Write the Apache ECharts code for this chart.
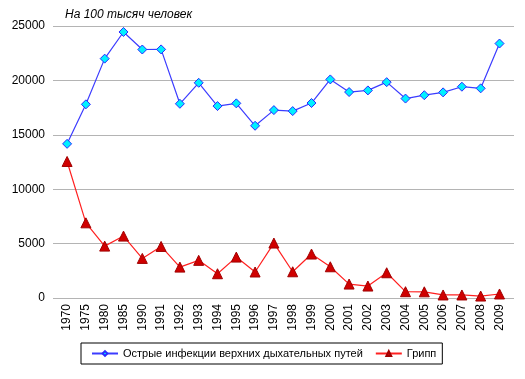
<!DOCTYPE html>
<html><head><meta charset="utf-8">
<script src="https://cdn.jsdelivr.net/npm/echarts@6/dist/echarts.min.js"></script>
<style>html,body{margin:0;padding:0;background:#fff}#c{width:525px;height:379px}</style>
</head><body><div id="c"></div>
<script>
const years = ['1970','1975','1980','1985','1990','1991','1992','1993','1994','1995','1996','1997','1998','1999','2000','2001','2002','2003','2004','2005','2006','2007','2008','2009'];
const ari = [14170,17800,22000,24450,22840,22850,17850,19780,17640,17890,15830,17270,17180,17920,20090,18930,19080,19840,18330,18640,18900,19420,19270,23390];
const flu = [12550,6910,4770,5690,3640,4740,2840,3460,2230,3760,2390,5050,2410,4040,2870,1280,1100,2320,580,570,280,280,180,370];
const yTicks = [0,5000,10000,15000,20000,25000];
const seriesNames = ['Острые инфекции верхних дыхательных путей','Грипп'];
const titleText = 'На 100 тысяч человек';

const font = 'Liberation Sans, Arial, sans-serif';
const chart = echarts.init(document.getElementById('c'));
chart.setOption({
  animation:false,
  textStyle:{fontFamily:font},
  grid:[
    {left:53,right:11,top:26,bottom:81,containLabel:false},
    {left:57.7,right:16.1,top:26,bottom:81,containLabel:false}
  ],
  xAxis:[
    {gridIndex:0,type:'category',data:years,show:false},
    {gridIndex:1,type:'category',data:years,boundaryGap:true,
     axisLine:{show:false},axisTick:{show:false},
     axisLabel:{rotate:90,interval:0,fontSize:12,color:'#000',fontFamily:font,margin:6}}
  ],
  yAxis:[
    {gridIndex:0,type:'value',min:yTicks[0],max:yTicks[yTicks.length-1],interval:5000,
     axisLine:{show:false},axisTick:{show:false},
     axisLabel:{fontSize:12,color:'#000',fontFamily:font,margin:8,formatter:function(v){return String(v);}},
     splitLine:{lineStyle:{color:'#b4b4b4',width:1}}},
    {gridIndex:1,type:'value',min:yTicks[0],max:yTicks[yTicks.length-1],interval:5000,
     axisLine:{show:false},axisTick:{show:false},axisLabel:{show:false},splitLine:{show:false}}
  ],
  legend:{
    left:81,top:343,orient:'horizontal',
    borderColor:'#000',borderWidth:1,borderRadius:0,padding:[5,6,5,10],
    itemWidth:26,itemHeight:6,itemGap:12,
    textStyle:{fontSize:11,color:'#000',fontFamily:font},
    data:[
      {name:seriesNames[0],itemStyle:{color:'#00f0ff',borderColor:'#2a2aff'}},
      {name:seriesNames[1],itemStyle:{color:'#d00000',borderColor:'#a00000'}}
    ]
  },
  graphic:[{type:'text',left:65,top:9,style:{text:titleText,font:'italic 12px '+font,fill:'#000'}}],
  series:[
    {name:seriesNames[0],type:'line',xAxisIndex:1,yAxisIndex:1,data:ari,
     symbol:'diamond',symbolSize:9,
     lineStyle:{color:'#3c3cff',width:1.2},
     itemStyle:{color:'#00f0ff',borderColor:'#2a2aff',borderWidth:1}},
    {name:seriesNames[1],type:'line',xAxisIndex:1,yAxisIndex:1,data:flu,
     symbol:'triangle',symbolSize:10,
     lineStyle:{color:'#ff2020',width:1.2},
     itemStyle:{color:'#d00000',borderColor:'#a00000',borderWidth:1}}
  ]
});
</script></body></html>
